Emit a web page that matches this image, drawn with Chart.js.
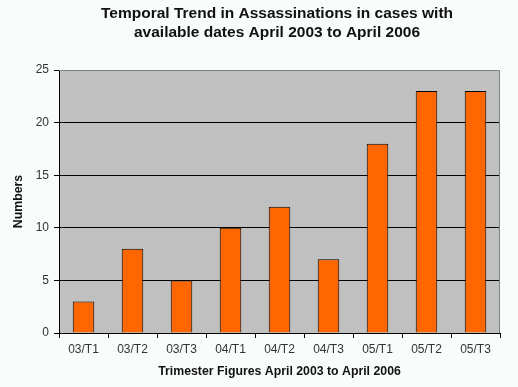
<!DOCTYPE html>
<html>
<head>
<meta charset="utf-8">
<script src="https://cdn.jsdelivr.net/npm/chart.js@4/dist/chart.umd.min.js"></script>
<style>
  html, body { margin: 0; padding: 0; background: #f8fcfa; }
  #wrap { width: 518px; height: 387px; }
</style>
</head>
<body>
<div id="wrap"><canvas id="chart" width="518" height="387"></canvas></div>
<script>
// Trimester categories and counts
const trimesters = ["03/T1", "03/T2", "03/T3", "04/T1", "04/T2", "04/T3", "05/T1", "05/T2", "05/T3"];
const assassinations = [3, 8, 5, 10, 12, 7, 18, 23, 23];
const yTicks = [0, 5, 10, 15, 20, 25];
const titleLines = ["Temporal Trend in Assassinations in cases with", "available dates April 2003 to April 2006"];

// gray plot area with a thin gray frame, plus the title centred over the plot
const plotBackground = {
    id: "plotBackground",
    beforeDraw(chart) {
        const { ctx, chartArea: a } = chart;
        ctx.save();
        ctx.fillStyle = "#c0c0c0";
        ctx.fillRect(a.left, a.top, a.right - a.left, a.bottom - a.top);
        ctx.restore();
    },
    afterDatasetsDraw(chart) {
        const { ctx, chartArea: a } = chart;
        ctx.save();
        ctx.strokeStyle = "#808080";
        ctx.lineWidth = 1;
        ctx.beginPath();
        ctx.moveTo(a.left, a.top + 0.5);
        ctx.lineTo(a.right - 0.5, a.top + 0.5);
        ctx.lineTo(a.right - 0.5, a.bottom);
        ctx.stroke();
        ctx.restore();
    },
    afterDraw(chart) {
        const { ctx } = chart;
        ctx.save();
        ctx.fillStyle = "#111111";
        ctx.font = "bold 15.5px 'Liberation Sans'";
        ctx.textAlign = "center";
        ctx.textBaseline = "middle";
        ctx.fillText(titleLines[0], 277, 14);
        ctx.fillText(titleLines[1], 277, 33);
        ctx.restore();
    }
};

new Chart(document.getElementById("chart").getContext("2d"), {
    type: "bar",
    data: {
        labels: trimesters,
        datasets: [{
            data: assassinations,
            backgroundColor: "#ff6600",
            borderColor: "#000000",
            borderWidth: 1,
            borderSkipped: "bottom",
            categoryPercentage: 1.0,
            barPercentage: 0.44
        }]
    },
    options: {
        responsive: false,
        animation: false,
        layout: { padding: { left: 0, right: 18, top: 70, bottom: 0 } },
        plugins: {
            legend: { display: false },
            tooltip: { enabled: false },
            title: { display: false }
        },
        scales: {
            x: {
                grid: {
                    offset: true,
                    drawOnChartArea: false,
                    color: "#000000",
                    tickLength: 5
                },
                border: { color: "#000000" },
                ticks: {
                    color: "#333333",
                    font: { family: "Liberation Sans", size: 12 },
                    padding: 4
                },
                title: {
                    display: true,
                    text: "Trimester Figures April 2003 to April 2006",
                    color: "#111111",
                    font: { family: "Liberation Sans", size: 12.3, weight: "bold" },
                    padding: { top: 5, bottom: 8 }
                },
                afterFit(scale) { scale.height = 54; }
            },
            y: {
                min: 0,
                max: 25,
                afterBuildTicks(scale) { scale.ticks = yTicks.map(v => ({ value: v })); },
                grid: {
                    color: ctx => (ctx.tick && ctx.tick.value === 25 ? "rgba(0,0,0,0)" : "#000000"),
                    tickColor: "#000000",
                    tickLength: 5
                },
                border: { color: "#000000" },
                ticks: {
                    color: "#333333",
                    font: { family: "Liberation Sans", size: 12 },
                    padding: 5
                },
                title: {
                    display: true,
                    text: "Numbers",
                    color: "#111111",
                    font: { family: "Liberation Sans", size: 12.3, weight: "bold" },
                    padding: { top: 11, bottom: 0 }
                },
                afterFit(scale) { scale.width = 59; }
            }
        }
    },
    plugins: [plotBackground]
});
</script>
</body>
</html>
